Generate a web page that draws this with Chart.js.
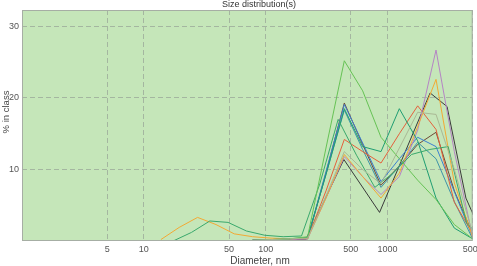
<!DOCTYPE html>
<html>
<head>
<meta charset="utf-8">
<script src="https://cdn.jsdelivr.net/npm/chart.js@4.4.1/dist/chart.umd.min.js"></script>
<style>
  html, body { margin: 0; padding: 0; background: #ffffff; }
  #wrap { width: 477px; height: 266px; }
</style>
</head>
<body>
<div id="wrap"><canvas id="chart" width="477" height="266"></canvas></div>
<script>
const N = null;

// size bins (nm), sqrt(2) ladder
const binsNm = [13.8, 19.5, 27.6, 39.1, 55.2, 78.1, 110.5, 156.3, 221, 312.5, 441.9, 625, 883.9, 1250, 1767.8, 2500, 3535.5, 5000];

const lightGreenPct = [N, N, N, N, N, 0.1, 0.2, 0.3, 0.6, 13, 25.2, 21, 14.5, 11.5, 8.5, 5.8, 2.3, 0.3];
const tealPct = [N, N, N, N, N, 0.1, 0.2, 0.3, 0.5, 9.3, 18.5, 13.2, 12.5, 18.5, 14, 6, 1.8, 0.3];
const bluePct = [N, N, N, N, N, 0.1, 0.2, 0.3, 0.4, 9.7, 19.1, 13.7, 8.3, 11.5, 14.5, 13.2, 6.9, 0.5];
const steelPct = [N, N, N, N, N, 0.1, 0.2, 0.3, 0.4, 9.3, 18.3, 12.8, 7.5, 10.5, 13.8, 11.5, 5.5, 0.3];
const brownPct = [N, N, N, N, N, 0.1, 0.2, 0.2, 0.3, 9.5, 19.3, 13.5, 7.8, 10.5, 13.5, 15.2, 7, 1];
const redPct = [N, N, N, N, N, 0.1, 0.2, 0.3, 0.4, 7, 14.2, 12.5, 10.9, 15, 18.9, 15.6, 5.4, 1];
const orangePct = [0.2, 1.9, 3.3, 2.3, 1.0, 0.6, 0.4, 0.3, 0.4, 6, 12.1, 9, 6, 9.5, 16, 22.6, 8.1, 0.5];
const purplePct = [N, N, N, N, N, 0.1, 0.2, 0.2, 0.3, 6, 11.8, 9, 6.5, 9, 15.5, 26.7, 12.5, 0.5];
const khakiPct = [N, N, N, N, N, 0.1, 0.2, 0.3, 0.4, 6.3, 12.5, 10, 8, 13, 18, 17.7, 10, 1];

// two runs sit on a slightly shifted grid
const forestNm = [17.4, 24.6, 34.8, 49.1, 69.5, 98.3, 139.1, 196.7, 278.1, 393.3, 556.3, 786.7, 1112.5, 1573.4, 2225, 3146.6, 4450, 6292.5];
const forestPct = [0, 1.2, 2.8, 2.6, 1.4, 0.8, 0.6, 0.7, 8, 17, 12, 7.5, 9.5, 12.1, 12.8, 13.2, 2.5, 0];
const darkNm = [78, 156, 215, 438, 860, 2236, 3080, 4400, 6300];
const darkPct = [0.1, 0.2, 0.3, 11.4, 4.0, 20.7, 18.8, 6, 0];

const xTicks = [5, 10, 50, 100, 500, 1000, 5000];
const yTicks = [10, 20, 30];

function toPoints(xs, ys) {
  const pts = [];
  xs.forEach((x, i) => {
    if (ys[i] !== null) pts.push({ x: x, y: ys[i] });
  });
  return pts;
}

function series(xs, ys, color) {
  return {
    data: toPoints(xs, ys),
    borderColor: color,
    borderWidth: 1,
    pointRadius: 0,
    fill: false,
    tension: 0,
  };
}

const datasets = [
  series(binsNm, khakiPct, "#a9b894"),
  series(binsNm, lightGreenPct, "#66c255"),
  series(forestNm, forestPct, "#3aa86c"),
  series(binsNm, tealPct, "#1f9d72"),
  series(binsNm, orangePct, "#f2a934"),
  series(binsNm, purplePct, "#b584c4"),
  series(binsNm, redPct, "#e4603c"),
  series(binsNm, steelPct, "#3f93a8"),
  series(binsNm, bluePct, "#3c7fd0"),
  series(binsNm, brownPct, "#6e4a36"),
  series(darkNm, darkPct, "#3a3a3a"),
];

const plotDecor = {
  id: "plotDecor",
  beforeDraw(chart) {
    const { ctx, chartArea: a } = chart;
    ctx.save();
    ctx.fillStyle = "#c5e6b9";
    ctx.fillRect(a.left, a.top, a.right - a.left, a.bottom - a.top);
    ctx.restore();
  },
  afterDraw(chart) {
    const { ctx, chartArea: a } = chart;
    ctx.save();
    ctx.strokeStyle = "#a6aea4";
    ctx.lineWidth = 1;
    ctx.strokeRect(a.left + 0.5, a.top + 0.5, a.right - a.left - 1, a.bottom - a.top - 1);
    ctx.fillStyle = "#333333";
    ctx.textAlign = "center";
    ctx.textBaseline = "middle";
    ctx.font = "9px 'Liberation Sans', Arial, sans-serif";
    ctx.fillText("Size distribution(s)", 259, 4.5);
    ctx.fillStyle = "#444444";
    ctx.font = "10px 'Liberation Sans', Arial, sans-serif";
    ctx.fillText("Diameter, nm", 260, 261);
    ctx.translate(6, 112);
    ctx.rotate(-Math.PI / 2);
    ctx.font = "9.5px 'Liberation Sans', Arial, sans-serif";
    ctx.fillText("% in class", 0, 0);
    ctx.restore();
  },
};

new Chart(document.getElementById("chart"), {
  type: "line",
  data: { datasets },
  options: {
    responsive: false,
    animation: false,
    layout: { padding: { top: 10, right: 4.3, left: 0, bottom: 0 } },
    plugins: { legend: { display: false }, title: { display: false }, tooltip: { enabled: false } },
    scales: {
      x: {
        type: "logarithmic",
        min: 1,
        max: 5000,
        afterBuildTicks: (scale) => { scale.ticks = xTicks.map((v) => ({ value: v })); },
        afterFit: (scale) => {
          scale.height = 25;
          scale.paddingLeft = 0;
          scale.paddingRight = 0;
        },
        ticks: {
          color: "#555555",
          font: { size: 9, family: "'Liberation Sans', Arial, sans-serif" },
          padding: 3,
          maxRotation: 0,
          autoSkip: false,
          callback: (v) => String(v),
        },
        grid: { color: "#a4b6a0", lineWidth: 1, drawTicks: false },
        border: { display: false, dash: [5, 3] },
      },
      y: {
        min: 0,
        max: 32.3,
        afterBuildTicks: (scale) => { scale.ticks = yTicks.map((v) => ({ value: v })); },
        afterFit: (scale) => {
          scale.width = 22;
          scale.paddingTop = 0;
          scale.paddingBottom = 0;
        },
        ticks: {
          color: "#555555",
          font: { size: 9, family: "'Liberation Sans', Arial, sans-serif" },
          padding: 3,
        },
        grid: { color: "#a4b6a0", lineWidth: 1, drawTicks: false },
        border: { display: false, dash: [5, 3] },
      },
    },
  },
  plugins: [plotDecor],
});
</script>
</body>
</html>
